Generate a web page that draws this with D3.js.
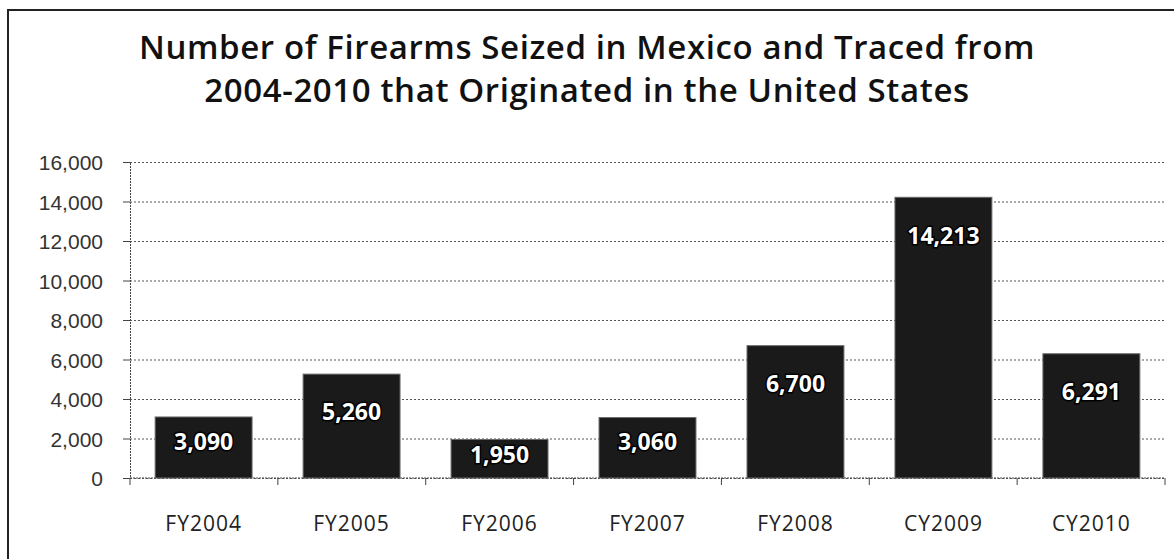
<!DOCTYPE html>
<html>
<head>
<meta charset="utf-8">
<script src="https://cdn.jsdelivr.net/npm/d3@7"></script>
<style>
  body { margin: 0; background: #fff; }
  svg { display: block; font-family: "Open Sans", "Noto Sans", sans-serif; }
</style>
</head>
<body>
<div id="chart"></div>
<script>
var categories = ["FY2004", "FY2005", "FY2006", "FY2007", "FY2008", "CY2009", "CY2010"];
var values = [3090, 5260, 1950, 3060, 6700, 14213, 6291];
var yTicks = [0, 2000, 4000, 6000, 8000, 10000, 12000, 14000, 16000];
var titleLines = ["Number of Firearms Seized in Mexico and Traced from",
                  "2004-2010 that Originated in the United States"];

function draw_chart(element) {
    var svg = d3.select("#" + element).append("svg").attr("width", 1174).attr("height", 559),
        margin = {top: 162, right: 9, bottom: 81, left: 130},
        width = +svg.attr("width") - margin.left - margin.right,
        height = +svg.attr("height") - margin.top - margin.bottom;

    // outer frame (runs off the bottom / right of the picture)
    svg.append("rect")
        .attr("x", 8).attr("y", 10)
        .attr("width", 1200).attr("height", 600)
        .attr("fill", "none")
        .attr("stroke", "#222")
        .attr("stroke-width", 2);

    svg.selectAll(".title")
        .data(titleLines)
        .enter().append("text")
        .attr("class", "title")
        .attr("x", 587)
        .attr("y", function (d, i) { return 59 + i * 43; })
        .attr("text-anchor", "middle")
        .attr("font-size", 33)
        .attr("font-weight", 600)
        .attr("letter-spacing", 0.6)
        .attr("fill", "#111")
        .text(function (d) { return d; });

    var x = d3.scaleBand().domain(categories).range([0, width]).paddingInner(0.345).paddingOuter(0.17);
    var y = d3.scaleLinear().domain([0, 16000]).range([height, 0]);

    var g = svg.append("g")
        .attr("transform", "translate(" + margin.left + "," + margin.top + ")");

    // gridlines
    g.append("g")
        .attr("class", "grid")
        .call(d3.axisLeft(y).tickValues(yTicks).tickSize(-width).tickFormat(""))
        .call(function (s) {
            s.select(".domain").remove();
            s.selectAll("line").attr("stroke", "#555").attr("stroke-dasharray", "2,2");
        });

    // y axis
    g.append("g")
        .attr("class", "y axis")
        .call(d3.axisLeft(y).tickValues(yTicks).tickSize(7).tickPadding(20).tickFormat(d3.format(",")))
        .call(function (s) {
            s.select(".domain").attr("stroke", "#444").attr("stroke-dasharray", "2,1");
            s.selectAll("line").attr("stroke", "#444");
            s.selectAll("text").attr("font-size", 21).attr("fill", "#333").attr("dy", "0.36em");
        });

    // x axis
    var xAxis = g.append("g")
        .attr("class", "x axis")
        .attr("transform", "translate(0," + height + ")");
    xAxis.append("line")
        .attr("x1", 0).attr("x2", width)
        .attr("stroke", "#444").attr("stroke-dasharray", "2,1");
    xAxis.selectAll(".xtick")
        .data(d3.range(categories.length + 1))
        .enter().append("line")
        .attr("class", "xtick")
        .attr("x1", function (i) { return i * width / categories.length; })
        .attr("x2", function (i) { return i * width / categories.length; })
        .attr("y1", 0).attr("y2", 7)
        .attr("stroke", "#444");
    xAxis.selectAll(".xlabel")
        .data(categories)
        .enter().append("text")
        .attr("class", "xlabel")
        .attr("x", function (d) { return x(d) + x.bandwidth() / 2; })
        .attr("y", 53)
        .attr("text-anchor", "middle")
        .attr("font-size", 21)
        .attr("letter-spacing", 1)
        .attr("fill", "#222")
        .text(function (d) { return d; });

    var data = categories.map(function (c, i) { return {cat: c, value: values[i]}; });

    var groups = g.selectAll(".gr")
        .data(data)
        .enter().append("g")
        .attr("class", "gr");

    groups.append("rect")
        .attr("class", "bar")
        .attr("x", function (d) { return x(d.cat); })
        .attr("y", function (d) { return y(d.value); })
        .attr("width", x.bandwidth())
        .attr("height", function (d) { return height - y(d.value); })
        .attr("fill", "#1a1a1a")
        .attr("stroke", "#6a6a6a")
        .attr("stroke-width", 1);

    groups.append("text")
        .attr("x", function (d) { return x(d.cat) + x.bandwidth() / 2; })
        .attr("y", function (d) {
            var h = height - y(d.value);
            return y(d.value) + Math.min(38, h * 0.4);
        })
        .attr("dy", "0.36em")
        .attr("text-anchor", "middle")
        .attr("font-size", 23)
        .attr("font-weight", 700)
        .attr("fill", "#fff")
        .attr("stroke", "#000")
        .attr("stroke-width", 3)
        .attr("paint-order", "stroke")
        .text(function (d) { return d3.format(",")(d.value); });
}

draw_chart("chart");
</script>
</body>
</html>
